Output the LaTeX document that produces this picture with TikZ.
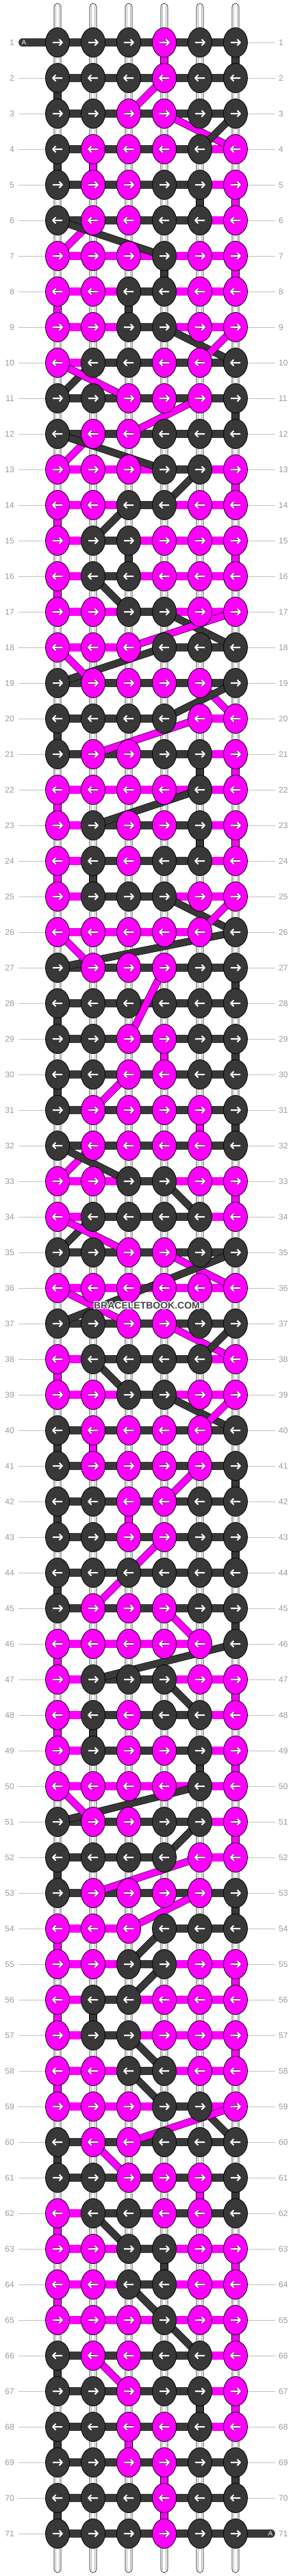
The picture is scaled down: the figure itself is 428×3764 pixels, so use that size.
\documentclass[tikz,border=0pt]{standalone}
\usepackage{fontspec}
\setmainfont{Liberation Sans}
\usetikzlibrary{shapes.geometric}
\pgfdeclarelayer{warp}
\pgfdeclarelayer{threads}
\pgfsetlayers{warp,threads,main}
\definecolor{cD}{HTML}{383838}
\definecolor{cM}{HTML}{FF00FF}
\definecolor{lblgray}{HTML}{999999}
\definecolor{linegray}{HTML}{C0C0C0}
\tikzset{
  knotD/.style={ellipse, draw=black, line width=0.8pt, fill=cD,
    minimum width=35pt, minimum height=43pt, inner sep=0pt},
  knotM/.style={knotD, fill=cM},
  thD/.style={draw=black, line width=0.6pt, double=cD, double distance=11.4pt},
  thM/.style={thD, double=cM},
  thN/.style={draw=none},
  vtD/.style={draw=black, line width=0.6pt, double=cD, double distance=10.8pt},
  vtM/.style={vtD, double=cM},
  vtW/.style={draw=none},
  dgD/.style={draw=black, line width=0.6pt, double=cD, double distance=9.6pt},
  dgM/.style={dgD, double=cM},
  warpstr/.style={draw=black, line width=0.6pt, fill=white, rounded corners=5pt},
  warpline/.style={draw=black!30, line width=0.6pt},
  rowlbl/.style={text=lblgray, font=\fontsize{12}{14}\selectfont, inner sep=0pt},
  rowline/.style={draw=linegray, line width=0.8pt},
  tagA/.style={text=white, font=\fontsize{10}{12}\selectfont, inner sep=0pt},
  pics/knotarrow/.style={code={
    \draw[black!75, line width=3.2pt, line join=round] (-7,0) -- (6.5,0) (2.5,-4.5) -- (7,0) -- (2.5,4.5);
    \draw[white, line width=2pt, line join=round] (-7,0) -- (6.5,0) (2.5,-4.5) -- (7,0) -- (2.5,4.5);
  }}
}
% row / knots / segments / verticals to next row
\def\rowdata{%
1/{D,D,D,M,D,D}/{D,D,D,D,D}/{W,W,W,M,W,D},
2/{D,D,D,M,D,D}/{D,D,D,D,D}/{D,W,W,W,W,W},
3/{D,D,M,M,D,D}/{D,D,D,D,D}/{W,W,W,W,W,W},
4/{D,M,M,M,D,M}/{D,D,D,D,M}/{D,M,W,W,W,W},
5/{D,M,M,D,D,M}/{D,D,D,D,M}/{W,W,W,W,D,M},
6/{D,M,M,D,D,M}/{D,D,D,D,M}/{W,W,W,W,W,W},
7/{M,M,M,D,M,M}/{M,M,M,M,M}/{W,W,W,D,W,M},
8/{M,M,D,D,M,M}/{M,M,D,M,M}/{M,W,D,W,W,W},
9/{M,M,D,D,M,M}/{M,M,D,M,M}/{W,W,W,W,W,W},
10/{M,D,D,M,M,D}/{M,D,D,D,D}/{W,W,W,W,W,W},
11/{D,D,M,M,M,D}/{D,D,D,D,D}/{W,W,W,W,W,D},
12/{D,M,M,D,D,D}/{D,D,D,D,D}/{W,W,W,W,W,W},
13/{M,M,M,D,D,M}/{M,M,M,D,M}/{W,W,W,W,W,M},
14/{M,M,D,D,M,M}/{M,M,D,M,M}/{M,W,W,W,W,W},
15/{M,D,D,M,M,M}/{M,D,M,M,M}/{W,W,D,W,W,M},
16/{M,D,D,M,M,M}/{M,D,M,M,M}/{M,W,W,W,W,W},
17/{M,M,D,D,M,M}/{M,M,D,M,M}/{W,W,W,W,W,W},
18/{M,M,M,D,D,D}/{M,M,N,D,D}/{W,W,W,W,W,W},
19/{D,M,M,M,M,D}/{D,D,D,D,D}/{W,W,W,W,W,W},
20/{D,D,D,D,M,M}/{D,D,D,N,M}/{D,W,W,W,W,W},
21/{D,M,M,D,D,M}/{D,D,D,D,M}/{W,W,W,W,D,M},
22/{M,M,M,M,D,M}/{M,M,M,M,M}/{M,W,W,W,W,W},
23/{M,D,M,M,D,M}/{M,D,D,D,M}/{W,W,W,W,D,M},
24/{M,D,M,D,D,M}/{M,D,D,D,M}/{M,D,W,W,W,W},
25/{M,D,D,D,M,M}/{M,D,D,M,M}/{W,W,W,W,W,W},
26/{M,M,M,M,M,D}/{M,M,M,M,N}/{W,W,W,W,W,W},
27/{D,M,M,M,D,D}/{D,D,D,D,D}/{W,W,W,W,W,D},
28/{D,D,D,D,D,D}/{D,D,D,D,D}/{D,W,W,W,W,W},
29/{D,D,M,M,D,D}/{D,D,D,D,D}/{W,W,W,M,W,D},
30/{D,D,M,M,D,D}/{D,D,D,D,D}/{D,W,W,W,W,W},
31/{D,M,M,M,M,D}/{D,D,D,D,D}/{W,W,W,W,M,D},
32/{D,M,M,M,M,D}/{D,D,D,D,D}/{W,W,W,W,W,W},
33/{M,M,D,D,M,M}/{M,M,D,M,M}/{W,W,W,W,W,M},
34/{M,D,D,D,D,M}/{M,D,D,D,M}/{W,W,W,W,W,W},
35/{D,D,M,M,D,D}/{D,D,D,D,D}/{W,W,W,W,W,W},
36/{M,M,M,M,M,M}/{M,M,M,M,M}/{W,W,W,W,W,W},
37/{D,D,M,M,D,D}/{D,D,D,D,D}/{W,W,W,W,W,W},
38/{M,D,D,D,D,M}/{M,D,D,D,M}/{M,W,W,W,W,W},
39/{M,M,D,D,M,M}/{M,M,D,M,M}/{W,W,W,W,W,W},
40/{D,M,M,M,M,D}/{D,D,D,D,D}/{D,M,W,W,W,W},
41/{D,M,M,M,M,D}/{D,D,D,D,D}/{W,W,W,W,W,D},
42/{D,D,M,M,D,D}/{D,D,D,D,D}/{D,W,M,W,W,W},
43/{D,D,M,M,D,D}/{D,D,D,D,D}/{W,W,W,W,W,D},
44/{D,D,D,D,D,D}/{D,D,D,D,D}/{D,W,W,W,W,W},
45/{D,M,M,M,D,D}/{D,D,D,D,D}/{W,W,W,W,W,D},
46/{M,M,M,M,M,D}/{M,M,M,M,N}/{M,W,W,W,W,W},
47/{M,D,D,D,M,M}/{M,D,D,M,M}/{W,W,W,W,W,M},
48/{M,D,M,D,D,M}/{M,D,D,D,M}/{M,D,W,W,W,W},
49/{M,D,M,M,D,M}/{M,D,D,D,M}/{W,W,W,W,D,M},
50/{M,M,M,M,D,M}/{M,M,M,M,M}/{W,W,W,W,W,W},
51/{D,M,M,D,D,M}/{D,D,D,D,M}/{W,W,W,W,W,M},
52/{D,D,D,D,M,M}/{D,D,D,N,M}/{D,W,W,W,W,W},
53/{D,M,M,M,M,D}/{D,D,D,D,D}/{W,W,W,W,W,D},
54/{M,M,M,D,D,D}/{M,M,N,D,D}/{M,W,W,W,W,W},
55/{M,M,D,D,M,M}/{M,M,D,M,M}/{W,W,W,W,W,M},
56/{M,D,D,M,M,M}/{M,D,M,M,M}/{M,D,W,W,W,W},
57/{M,D,D,M,M,M}/{M,D,M,M,M}/{W,W,W,W,W,M},
58/{M,M,D,D,M,M}/{M,M,D,M,M}/{M,W,W,W,W,W},
59/{M,M,M,D,D,M}/{M,M,M,D,M}/{W,W,W,W,W,W},
60/{D,M,M,D,D,D}/{D,D,D,D,D}/{D,W,W,W,W,W},
61/{D,D,M,M,M,D}/{D,D,D,D,D}/{W,W,W,W,M,D},
62/{M,D,D,M,M,D}/{M,D,D,D,D}/{M,W,W,W,W,W},
63/{M,M,D,D,M,M}/{M,M,D,M,M}/{W,W,W,D,W,M},
64/{M,M,D,D,M,M}/{M,M,D,M,M}/{M,W,W,W,W,W},
65/{M,M,M,D,M,M}/{M,M,M,M,M}/{W,W,W,W,W,M},
66/{D,M,M,D,D,M}/{D,D,D,D,M}/{D,W,W,W,W,W},
67/{D,D,M,D,D,M}/{D,D,D,D,M}/{W,W,W,W,D,M},
68/{D,D,M,M,D,M}/{D,D,D,D,M}/{D,W,M,W,W,W},
69/{D,D,M,M,D,D}/{D,D,D,D,D}/{W,W,W,M,W,D},
70/{D,D,D,M,D,D}/{D,D,D,D,D}/{D,W,W,M,W,W},
71/{D,D,D,M,D,D}/{D,D,D,D,D}/{W,W,W,W,W,W}}
\begin{document}
\begin{tikzpicture}[x=1pt, y=-1pt]
  \useasboundingbox (0,0) rectangle (428,3764);
  \begin{pgfonlayer}{warp}
    \fill[white] (0,0) rectangle (428,3764);
    % white base strings
    \foreach \i in {1,...,6} {
      \draw[warpstr] ({32+52*\i-5},5) rectangle ({32+52*\i+5},3759);
      \draw[warpline] ({32+52*\i-2.5},8) -- ({32+52*\i-2.5},3756);
      \draw[warpline] ({32+52*\i+2.5},8) -- ({32+52*\i+2.5},3756);
    }
  \end{pgfonlayer}
  % knots
  \foreach \r/\kn/\sg/\vt in \rowdata {
    \pgfmathtruncatemacro\dir{1-2*mod(\r+1,2)}
    \foreach \c [count=\i] in \kn {
      \node[knot\c] (k-\r-\i) at ({32+52*\i},{10+52*\r}) {};
      \pic[xscale=\dir] at (k-\r-\i) {knotarrow};
    }
    \node[rowlbl, anchor=east] (ll-\r) at (21,{10+52*\r}) {\r};
    \node[rowlbl, anchor=west] (lr-\r) at (407,{10+52*\r}) {\r};
  }
  % threads along the rows and down to the next row
  \begin{pgfonlayer}{threads}
    \foreach \r/\kn/\sg/\vt in \rowdata {
      \foreach \s [count=\i] in \sg {
        \pgfmathtruncatemacro\j{\i+1}
        \draw[th\s] (k-\r-\i.center) -- (k-\r-\j.center);
      }
      \ifnum\r<71
        \pgfmathtruncatemacro\rr{\r+1}
        \foreach \v [count=\i] in \vt {
          \draw[vt\v] (k-\r-\i.center) -- (k-\rr-\i.center);
        }
      \fi
    }
    % threads carried across
    \foreach \cl/\ra/\ca/\rb/\cb in {M/2/4/3/3, M/3/4/4/6, D/3/6/4/5, M/6/2/7/1,
      D/6/1/7/4, D/9/4/10/6, M/9/6/10/5, D/10/2/11/1, M/10/1/11/3, M/11/5/12/3,
      M/12/2/13/1, D/12/1/13/4, D/13/5/14/4, D/14/3/15/2, D/16/2/17/3,
      D/17/4/18/6, M/17/6/18/3, D/18/4/19/1, M/18/1/19/2, M/19/5/20/6,
      D/19/6/20/4, M/20/5/21/2, D/22/5/23/2, D/25/4/26/6, M/25/6/26/5,
      D/26/6/27/1, M/26/1/27/2, M/27/4/29/3, M/30/3/31/2, M/32/2/33/1,
      D/32/1/33/3, D/33/4/34/5, D/34/2/35/1, M/34/1/35/3, M/35/4/36/6,
      D/35/6/37/1, M/36/1/37/3, M/37/4/38/6, D/37/6/38/5, D/38/2/39/3,
      D/39/4/40/6, M/39/6/40/5, M/41/5/42/4, M/43/4/45/2, M/45/4/46/5,
      D/46/6/47/2, D/47/4/48/5, D/50/5/51/1, M/50/1/51/2, D/51/5/52/4,
      M/52/5/53/2, M/53/5/54/3, D/54/4/55/3, D/55/4/56/3, D/57/3/58/4,
      D/58/3/59/4, D/59/5/60/6, M/59/6/60/3, M/60/2/61/3, D/62/2/63/3,
      D/64/3/65/4, D/65/4/66/5, M/66/2/67/3} {
      \draw[dg\cl] (k-\ra-\ca.center) -- (k-\rb-\cb.center);
    }
    % thread A, start and end
    \coordinate (a-start) at (33.5,62);
    \coordinate (a-end) at (395.4,3702);
    \draw[thD, line cap=round] (a-start) -- (k-1-1.center);
    \draw[thD, line cap=round] (k-71-6.center) -- (a-end);
  \end{pgfonlayer}
  \node[tagA] (tag-start) at (35,62) {A};
  \node[tagA] (tag-end) at (395,3702) {A};
  % guide lines to the row numbers
  \foreach \r in {2,...,71}
    \draw[rowline, shorten <=6pt] (ll-\r.east) -- (k-\r-1.west);
  \foreach \r in {1,...,70}
    \draw[rowline, shorten >=5pt] (k-\r-6.east) -- (lr-\r.west);
  % watermark
  \foreach \dx/\dy [count=\n] in {1.2/0, -1.2/0, 0/1.2, 0/-1.2, 0.9/0.9, -0.9/0.9, 0.9/-0.9, -0.9/-0.9}
    \node[text=white, font=\bfseries\fontsize{14}{16}\selectfont] (wm-\n) at ({214.5+\dx},{1907.5+\dy}) {BRACELETBOOK.COM};
  \node[text=black!72, font=\bfseries\fontsize{14}{16}\selectfont] (wm) at (214.5,1907.5) {BRACELETBOOK.COM};
\end{tikzpicture}
\end{document}
